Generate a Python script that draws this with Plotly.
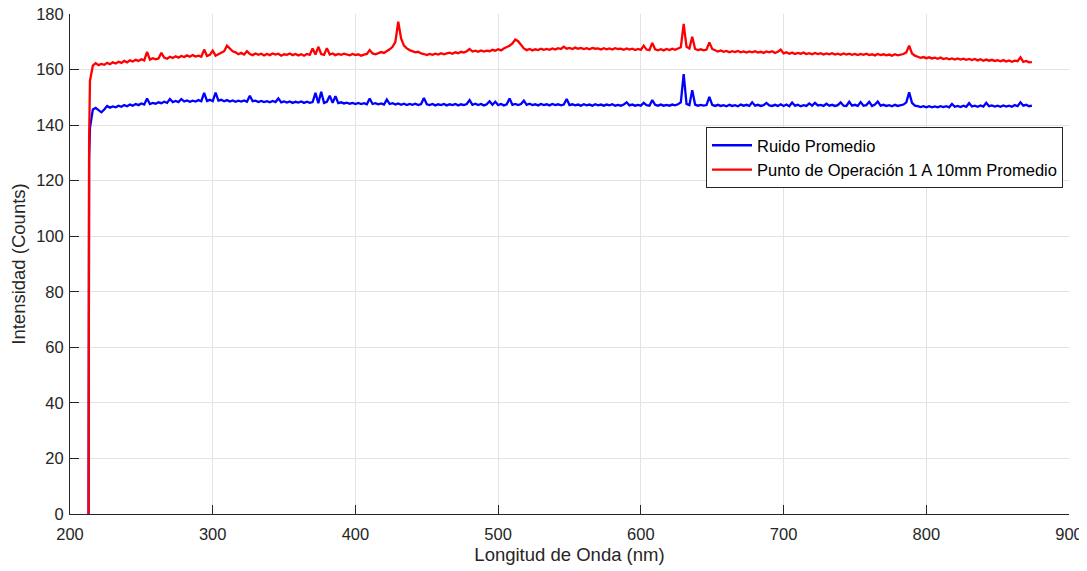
import numpy as np
import plotly.graph_objects as go

# Wavelength grid (nm) of the sampled spectrum, plus the onset samples
onset_wl = [213.0, 213.4]
grid_start, grid_stop, grid_step = 214, 874, 2

ruido_onset = [0.0, 128.0]
punto_onset = [0.0, 135.0]

ruido = [
    139.0, 145.6, 146.2, 145.4, 144.6, 145.6, 146.9, 146.3, 146.7, 146.4,
    147.0, 146.6, 147.2, 146.8, 147.4, 147.0, 147.6, 147.2, 147.8, 147.4,
    149.6, 147.6, 148.0, 147.7, 148.2, 147.9, 148.4, 148.0, 149.4, 148.3,
    148.7, 148.3, 149.4, 148.5, 148.9, 148.4, 148.8, 148.5, 149.0, 148.6,
    151.6, 148.7, 149.1, 148.6, 151.7, 148.8, 149.1, 148.6, 149.0, 148.5,
    148.9, 148.4, 148.8, 148.5, 148.9, 148.4, 150.6, 148.6, 148.8, 148.3,
    148.7, 148.3, 148.6, 148.2, 148.7, 148.3, 149.6, 148.2, 148.5, 148.1,
    148.5, 148.0, 148.4, 148.1, 148.5, 148.0, 148.4, 148.0, 148.3, 151.6,
    147.9, 152.0, 148.0, 148.4, 150.6, 148.0, 150.4, 147.9, 148.2, 147.8,
    148.1, 147.7, 148.0, 147.6, 148.0, 147.6, 147.9, 147.5, 149.6, 147.6,
    147.9, 147.5, 147.8, 147.4, 149.2, 147.6, 147.9, 147.4, 147.8, 147.3,
    147.7, 147.2, 147.6, 147.3, 147.7, 147.2, 147.6, 149.8, 147.5, 147.2,
    147.6, 147.1, 147.5, 147.2, 147.6, 147.1, 147.5, 147.2, 147.6, 147.1,
    147.5, 147.2, 147.6, 149.0, 147.3, 147.7, 147.2, 147.6, 147.1, 147.5,
    148.6, 147.3, 148.4, 147.2, 147.6, 147.1, 147.5, 149.6, 147.3, 147.6,
    147.2, 147.6, 148.8, 147.3, 147.7, 147.2, 147.5, 147.1, 147.6, 147.2,
    147.5, 147.1, 147.6, 147.2, 147.5, 147.1, 147.4, 149.4, 147.2, 147.5,
    147.1, 147.4, 147.0, 147.5, 147.1, 147.4, 147.0, 147.5, 147.1, 147.4,
    147.0, 147.4, 147.1, 147.5, 147.0, 147.3, 147.0, 147.4, 148.2, 147.1,
    147.4, 147.0, 147.3, 147.0, 148.0, 147.2, 147.0, 149.0, 147.3, 147.0,
    147.4, 147.0, 147.3, 147.0, 147.4, 147.1, 147.5, 148.2, 158.4, 147.6,
    147.2, 152.6, 147.4, 147.0, 147.3, 147.0, 147.2, 150.2, 147.3, 146.9,
    147.3, 146.9, 147.2, 146.8, 147.3, 146.9, 147.2, 146.8, 147.4, 147.0,
    147.3, 146.9, 148.2, 147.0, 147.3, 146.9, 147.2, 148.0, 147.1, 146.9,
    147.3, 146.9, 147.5, 146.9, 147.4, 146.8, 148.1, 147.0, 147.3, 146.8,
    147.2, 146.9, 147.8, 147.0, 148.0, 147.1, 147.3, 146.9, 147.7, 147.0,
    147.3, 146.9, 147.2, 148.2, 147.0, 146.9, 148.4, 147.0, 147.3, 146.9,
    148.3, 147.0, 147.2, 148.4, 146.9, 147.4, 148.5, 147.0, 147.3, 146.9,
    147.2, 146.8, 147.3, 146.9, 147.2, 147.4, 148.2, 151.8, 148.0, 147.0,
    146.8, 146.5, 146.8, 146.4, 146.8, 146.4, 146.7, 146.4, 146.8, 146.5,
    146.8, 146.4, 147.6, 146.6, 146.9, 146.5, 147.0, 146.6, 147.9, 146.7,
    147.0, 146.6, 147.1, 146.7, 148.0, 146.8, 147.1, 146.7, 147.0, 146.6,
    147.1, 146.7, 147.0, 146.6, 147.2, 146.8, 148.2, 147.0, 147.3, 146.8,
    147.0,
]

punto = [
    156.0, 161.4, 162.3, 161.6, 162.0, 161.7, 162.4, 161.9, 162.6, 162.2,
    162.8, 162.4, 163.1, 162.6, 163.3, 162.9, 163.5, 163.1, 163.7, 163.3,
    166.4, 163.6, 164.1, 163.7, 164.0, 166.0, 164.3, 163.9, 164.6, 164.2,
    164.8, 164.3, 164.9, 164.5, 165.1, 164.6, 165.2, 164.7, 165.0, 164.6,
    167.2, 164.9, 165.3, 166.8, 165.0, 165.6, 166.2, 166.6, 168.6, 167.4,
    166.6, 166.2, 165.5, 166.0, 165.4, 166.6, 165.6, 165.2, 165.8, 165.3,
    165.7, 165.1, 165.6, 165.2, 165.8, 165.4, 165.7, 165.0, 165.5, 165.3,
    165.8, 165.2, 165.6, 165.1, 165.5, 165.0, 165.6, 165.3, 167.6, 165.4,
    168.2, 165.6, 165.3, 167.7, 165.4, 165.8, 165.2, 165.6, 165.3, 165.7,
    165.4, 165.1, 165.6, 165.2, 165.5, 165.0, 165.4, 165.6, 167.0, 165.8,
    165.5, 165.9, 166.3, 166.0, 166.6, 167.3, 168.2, 170.0, 177.2, 171.2,
    168.6, 167.6, 167.0, 166.6, 166.2, 166.4, 165.8, 165.6, 165.2, 165.6,
    165.3, 165.7, 165.4, 165.9, 165.5, 165.8, 166.1, 165.7, 166.2, 165.9,
    166.4, 166.1, 166.6, 167.4, 166.5, 166.8, 166.4, 166.9, 166.5, 166.8,
    166.6, 167.1, 166.8, 167.3, 166.9, 167.6, 168.1, 168.6, 169.4, 170.8,
    170.2, 168.8, 167.6, 167.0, 167.4, 166.9, 167.3, 167.0, 167.5, 167.1,
    167.4, 167.1, 167.6, 167.2, 167.7, 167.4, 168.2, 167.5, 167.8, 167.4,
    167.9, 167.5, 167.8, 167.4, 167.7, 167.3, 167.8, 167.5, 167.6, 167.2,
    167.7, 167.3, 167.6, 167.2, 167.7, 167.4, 167.5, 167.1, 167.6, 167.2,
    167.5, 167.0, 167.4, 167.1, 168.6, 167.2, 167.0, 169.6, 167.3, 166.9,
    167.3, 166.9, 167.4, 167.0, 167.5, 167.1, 167.6, 168.0, 176.4, 168.2,
    167.6, 171.8, 167.4, 167.0, 167.3, 166.9, 167.2, 169.8, 167.4, 166.8,
    166.5, 166.9, 166.4, 166.7, 166.2, 166.6, 166.3, 166.7, 166.2, 166.5,
    166.1, 166.5, 166.2, 166.6, 166.1, 166.4, 166.0, 166.5, 166.2, 166.6,
    166.0, 166.4, 167.2, 165.8, 166.2, 165.7, 166.1, 165.6, 166.0, 165.7,
    166.1, 165.6, 165.9, 165.5, 166.0, 165.6, 165.9, 165.4, 165.8, 165.5,
    165.9, 165.4, 165.7, 165.3, 165.8, 165.4, 165.7, 165.3, 165.6, 165.2,
    165.6, 165.3, 165.7, 165.2, 165.5, 165.1, 165.6, 165.2, 165.5, 165.1,
    165.4, 165.0, 165.5, 165.1, 165.4, 165.6, 166.2, 168.6, 165.8, 165.0,
    164.6, 164.2, 164.5, 164.1, 164.4, 164.0, 164.3, 163.9, 164.3, 163.8,
    164.1, 163.7, 164.0, 163.6, 164.0, 163.6, 163.9, 163.5, 163.8, 163.4,
    163.8, 163.3, 163.7, 163.2, 163.6, 163.2, 163.5, 163.1, 163.4, 163.0,
    163.4, 162.9, 163.3, 162.8, 163.2, 163.0, 164.4, 162.8, 163.1, 162.6,
    162.7,
]

x_ticks = [200, 300, 400, 500, 600, 700, 800, 900]
y_ticks = [0, 20, 40, 60, 80, 100, 120, 140, 160, 180]

wl_grid = np.arange(grid_start, grid_stop + grid_step, grid_step)
wl = np.concatenate([onset_wl, wl_grid])
y_ruido = np.concatenate([ruido_onset, ruido])
y_punto = np.concatenate([punto_onset, punto])

fig = go.Figure()
fig.add_trace(go.Scatter(x=wl, y=y_ruido, mode="lines", name="Ruido Promedio",
                         line=dict(color="#0000ff", width=2.3)))
fig.add_trace(go.Scatter(x=wl, y=y_punto, mode="lines",
                         name="Punto de Operación 1 A 10mm Promedio",
                         line=dict(color="#ff0000", width=2.3)))

font_family = "Liberation Sans, Arial"
axis_common = dict(
    showgrid=True, gridcolor="#e3e3e3", gridwidth=1,
    showline=True, linecolor="#262626", linewidth=1,
    ticks="inside", ticklen=9, tickcolor="#262626", tickwidth=1,
    zeroline=False, mirror=False, automargin=False,
    ticklabeloverflow="allow",
    tickfont=dict(family=font_family, size=16.5, color="#262626"),
)

# The page body adds an 8 px offset, so the figure is sized to the visible area.
fig.update_layout(
    width=1079, height=563,
    margin=dict(l=62, r=18, t=6, b=57),
    paper_bgcolor="white", plot_bgcolor="white",
    font=dict(family=font_family, color="#262626"),
    xaxis=dict(range=[200, 900], tickvals=x_ticks, ticklabelstandoff=5,
               title=dict(text="Longitud de Onda (nm)", font=dict(size=18.5, color="#262626"),
                          standoff=6),
               **axis_common),
    yaxis=dict(range=[0, 180], tickvals=y_ticks, ticklabelstandoff=2,
               title=dict(text="Intensidad (Counts)", font=dict(size=18.5, color="#262626"),
                          standoff=7),
               **axis_common),
    legend=dict(x=0.994, y=0.774, xanchor="right", yanchor="top",
                bgcolor="white", bordercolor="#262626", borderwidth=1,
                font=dict(family=font_family, size=16.5, color="#000000"),
                tracegroupgap=0, itemwidth=40),
    showlegend=True,
)

fig.write_html("out.html")
